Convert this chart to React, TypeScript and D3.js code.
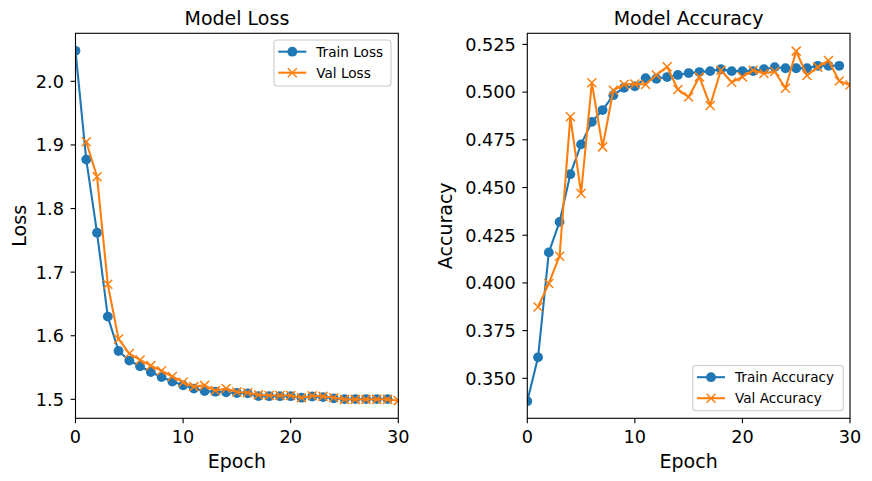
import React from "react";
import * as d3 from "d3";

const W = 872;
const H = 481;

// Data
const trainEpochs = d3.range(0, 30);
const valEpochs = d3.range(1, 31);

const trainLoss = [2.048, 1.877, 1.762, 1.630, 1.576, 1.561, 1.552, 1.543, 1.535, 1.528,
  1.522, 1.517, 1.513, 1.512, 1.511, 1.510, 1.5095, 1.5052, 1.505, 1.505,
  1.505, 1.5026, 1.5045, 1.5035, 1.5016, 1.5005, 1.5005, 1.5005, 1.5005, 1.5005];
const valLoss = [1.905, 1.850, 1.681, 1.595, 1.572, 1.562, 1.553, 1.545, 1.536, 1.527,
  1.520, 1.522, 1.514, 1.517, 1.5115, 1.5105, 1.507, 1.506, 1.506, 1.506,
  1.5026, 1.5057, 1.5047, 1.5026, 1.500, 1.500, 1.500, 1.500, 1.500, 1.498];

const trainAcc = [0.338, 0.361, 0.416, 0.432, 0.457, 0.4726, 0.4844, 0.4906, 0.4984, 0.5023,
  0.503, 0.5073, 0.507, 0.5079, 0.509, 0.510, 0.5105, 0.511, 0.512, 0.511,
  0.511, 0.511, 0.512, 0.5131, 0.5125, 0.5125, 0.5125, 0.5138, 0.5138, 0.5138];
const valAcc = [0.3874, 0.3997, 0.414, 0.4871, 0.4469, 0.5049, 0.4713, 0.501, 0.504, 0.5043,
  0.504, 0.509, 0.5133, 0.5014, 0.4974, 0.508, 0.493, 0.5115, 0.5052, 0.508,
  0.5115, 0.5098, 0.5108, 0.502, 0.5215, 0.5087, 0.5131, 0.5166, 0.5058, 0.5037];

const xTicks = [0, 10, 20, 30];
const lossTicks = [1.5, 1.6, 1.7, 1.8, 1.9, 2.0];
const accTicks = [0.35, 0.375, 0.4, 0.425, 0.45, 0.475, 0.5, 0.525];

const BLUE = "#1f77b4";
const ORANGE = "#ff7f0e";
const FONT = "DejaVu Sans, sans-serif";

type Series = { name: string; xs: number[]; ys: number[]; color: string; marker: "o" | "x" };

function Panel(props: {
  id: string;
  left: number;
  right: number;
  top: number;
  bottom: number;
  yDomain: [number, number];
  yTicks: number[];
  yFmt: (v: number) => string;
  title: string;
  ylabel: string;
  ylabelX: number;
  series: Series[];
  legend: { x: number; y: number; w: number; h: number };
}) {
  const { left, right, top, bottom } = props;
  const x = d3.scaleLinear().domain([0, 30]).range([left, right]);
  const y = d3.scaleLinear().domain(props.yDomain).range([bottom, top]);
  const line = d3.line<[number, number]>().x((d) => x(d[0])).y((d) => y(d[1]));
  const clipId = "clip-" + props.id;
  const r = 4.9;
  const xs = 4.5;
  const lg = props.legend;
  return (
    <g>
      <defs>
        <clipPath id={clipId}>
          <rect x={left} y={top} width={right - left} height={bottom - top} />
        </clipPath>
      </defs>
      <g clipPath={`url(#${clipId})`}>
        {props.series.map((s) => {
          const pts = s.xs.map((v, i) => [v, s.ys[i]] as [number, number]);
          return (
            <g key={s.name}>
              <path d={line(pts) || ""} fill="none" stroke={s.color} strokeWidth={2.1} strokeLinejoin="round" strokeLinecap="square" />
              {pts.map((p, i) =>
                s.marker === "o" ? (
                  <circle key={i} cx={x(p[0])} cy={y(p[1])} r={r} fill={s.color} />
                ) : (
                  <path key={i}
                    d={`M${x(p[0]) - xs},${y(p[1]) - xs}L${x(p[0]) + xs},${y(p[1]) + xs}M${x(p[0]) - xs},${y(p[1]) + xs}L${x(p[0]) + xs},${y(p[1]) - xs}`}
                    stroke={s.color} strokeWidth={1.5} fill="none" />
                )
              )}
            </g>
          );
        })}
      </g>
      {/* spines */}
      <rect x={left} y={top} width={right - left} height={bottom - top} fill="none" stroke="#000" strokeWidth={1.1} />
      {/* x ticks */}
      {xTicks.map((t) => (
        <g key={"x" + t}>
          <line x1={x(t)} x2={x(t)} y1={bottom} y2={bottom + 4.9} stroke="#000" strokeWidth={1.1} />
          <text x={x(t)} y={bottom + 25} textAnchor="middle" fontSize={17.7} fontFamily={FONT} fill="#000">{t}</text>
        </g>
      ))}
      {/* y ticks */}
      {props.yTicks.map((t) => (
        <g key={"y" + t}>
          <line x1={left - 4.9} x2={left} y1={y(t)} y2={y(t)} stroke="#000" strokeWidth={1.1} />
          <text x={left - 11.5} y={y(t)} dy="0.36em" textAnchor="end" fontSize={17.7} fontFamily={FONT} fill="#000">{props.yFmt(t)}</text>
        </g>
      ))}
      <text x={(left + right) / 2} y={top - 8.3} textAnchor="middle" fontSize={19} fontFamily={FONT} fill="#000">{props.title}</text>
      <text x={(left + right) / 2} y={468} textAnchor="middle" fontSize={19} fontFamily={FONT} fill="#000">Epoch</text>
      <text transform={`translate(${props.ylabelX},${(top + bottom) / 2}) rotate(-90)`} textAnchor="middle" fontSize={19} fontFamily={FONT} fill="#000">{props.ylabel}</text>
      {/* legend */}
      <rect x={lg.x} y={lg.y} width={lg.w} height={lg.h} rx={3} ry={3} fill="#fff" fillOpacity={0.8} stroke="#cccccc" strokeWidth={1.1} />
      {props.series.map((s, i) => {
        const cy = lg.y + 11.7 + i * 21;
        const x0 = lg.x + 4.3;
        const x1 = x0 + 28;
        const cx = (x0 + x1) / 2;
        return (
          <g key={"lg" + s.name}>
            <line x1={x0} x2={x1} y1={cy} y2={cy} stroke={s.color} strokeWidth={2.1} />
            {s.marker === "o" ? (
              <circle cx={cx} cy={cy} r={r} fill={s.color} />
            ) : (
              <path d={`M${cx - xs},${cy - xs}L${cx + xs},${cy + xs}M${cx - xs},${cy + xs}L${cx + xs},${cy - xs}`} stroke={s.color} strokeWidth={1.5} />
            )}
            <text x={x1 + 10} y={cy} dy="0.36em" fontSize={13.6} fontFamily={FONT} fill="#000">{s.name}</text>
          </g>
        );
      })}
    </g>
  );
}

export default function App() {
  return (
    <svg width={W} height={H} viewBox={`0 0 ${W} ${H}`} style={{ position: "absolute", left: 0, top: 0, background: "#fff" }}>
      <rect x={0} y={0} width={W} height={H} fill="#fff" />
      <Panel
        id="loss"
        left={75.5}
        right={398.3}
        top={33.3}
        bottom={418.3}
        yDomain={[1.4702, 2.0755]}
        yTicks={lossTicks}
        yFmt={(v) => v.toFixed(1)}
        title="Model Loss"
        ylabel="Loss"
        ylabelX={26}
        series={[
          { name: "Train Loss", xs: trainEpochs, ys: trainLoss, color: BLUE, marker: "o" },
          { name: "Val Loss", xs: valEpochs, ys: valLoss, color: ORANGE, marker: "x" },
        ]}
        legend={{ x: 274, y: 40, w: 117, h: 46 }}
      />
      <Panel
        id="acc"
        left={527.3}
        right={850}
        top={33.3}
        bottom={418.3}
        yDomain={[0.32904, 0.53083]}
        yTicks={accTicks}
        yFmt={(v) => v.toFixed(3)}
        title="Model Accuracy"
        ylabel="Accuracy"
        ylabelX={452}
        series={[
          { name: "Train Accuracy", xs: trainEpochs, ys: trainAcc, color: BLUE, marker: "o" },
          { name: "Val Accuracy", xs: valEpochs, ys: valAcc, color: ORANGE, marker: "x" },
        ]}
        legend={{ x: 692.7, y: 365.5, w: 150.6, h: 45.2 }}
      />
    </svg>
  );
}
